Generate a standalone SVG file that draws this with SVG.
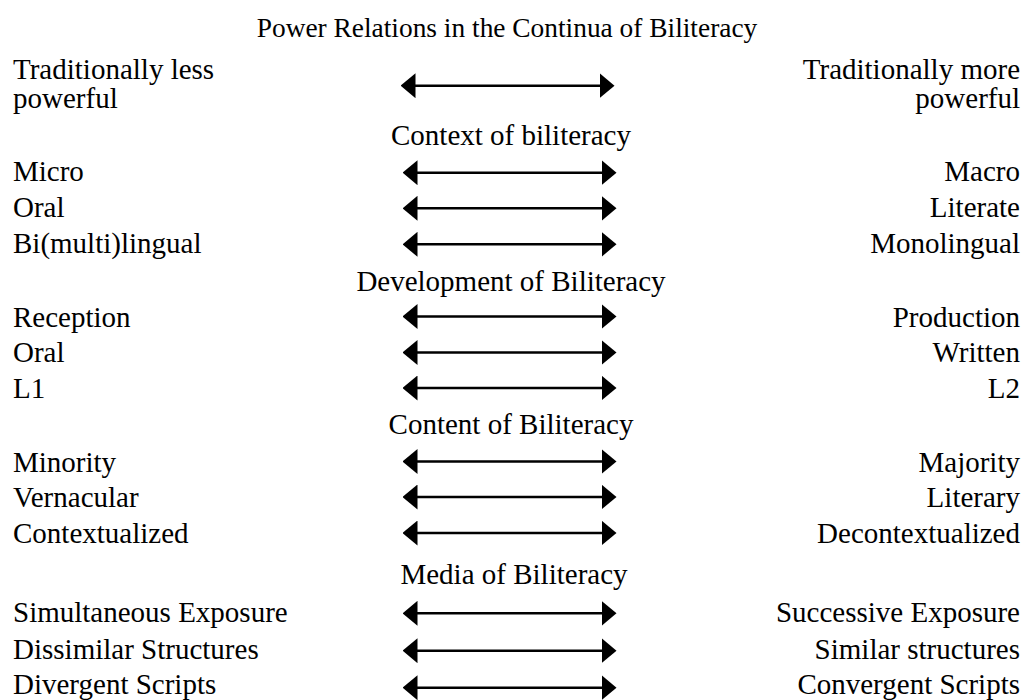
<svg xmlns="http://www.w3.org/2000/svg" width="1025" height="700" viewBox="0 0 1025 700">
<style>
text{font-family:"Liberation Serif","Times New Roman",serif;font-size:29px;fill:#000}
.l{text-anchor:start}
.r{text-anchor:end}
.c{text-anchor:middle}
.t{font-size:27.4px}
.arr{stroke:#000;stroke-width:2.5;fill:none;marker-start:url(#head);marker-end:url(#head)}
</style>
<defs>
<marker id="head" viewBox="0 0 15 25" refX="0.5" refY="12.5" markerWidth="15" markerHeight="25" markerUnits="userSpaceOnUse" orient="auto-start-reverse">
<path d="M0,0 L15,12.5 L0,25 Z" fill="#000"/>
</marker>
</defs>
<rect width="1025" height="700" fill="#fff"/>
<g id="title"><text class="c t" x="507" y="37">Power Relations in the Continua of Biliteracy</text></g>
<g id="row-power">
<text class="l" x="13" y="79">Traditionally less</text>
<text class="l" x="13" y="108">powerful</text>
<text class="r" x="1020" y="79">Traditionally more</text>
<text class="r" x="1020" y="108">powerful</text>
</g>
<g id="h-context"><text class="c" x="511" y="145">Context of biliteracy</text></g>
<g id="row-micro"><text class="l" x="13" y="181">Micro</text><text class="r" x="1020" y="181">Macro</text></g>
<g id="row-oral1"><text class="l" x="13" y="217">Oral</text><text class="r" x="1020" y="217">Literate</text></g>
<g id="row-bi"><text class="l" x="13" y="253">Bi(multi)lingual</text><text class="r" x="1020" y="253">Monolingual</text></g>
<g id="h-development"><text class="c" x="511" y="291">Development of Biliteracy</text></g>
<g id="row-reception"><text class="l" x="13" y="327">Reception</text><text class="r" x="1020" y="327">Production</text></g>
<g id="row-oral2"><text class="l" x="13" y="362">Oral</text><text class="r" x="1020" y="362">Written</text></g>
<g id="row-l1"><text class="l" x="13" y="398">L1</text><text class="r" x="1020" y="398">L2</text></g>
<g id="h-content"><text class="c" x="511" y="434">Content of Biliteracy</text></g>
<g id="row-minority"><text class="l" x="13" y="472">Minority</text><text class="r" x="1020" y="472">Majority</text></g>
<g id="row-vernacular"><text class="l" x="13" y="507">Vernacular</text><text class="r" x="1020" y="507">Literary</text></g>
<g id="row-context"><text class="l" x="13" y="543">Contextualized</text><text class="r" x="1020" y="543">Decontextualized</text></g>
<g id="h-media"><text class="c" x="514" y="584">Media of Biliteracy</text></g>
<g id="row-simultaneous"><text class="l" x="13" y="622">Simultaneous Exposure</text><text class="r" x="1020" y="622">Successive Exposure</text></g>
<g id="row-dissimilar"><text class="l" x="13" y="659">Dissimilar Structures</text><text class="r" x="1020" y="659">Similar structures</text></g>
<g id="row-divergent"><text class="l" x="13" y="694">Divergent Scripts</text><text class="r" x="1020" y="694">Convergent Scripts</text></g>
<g id="connectors">
<line class="arr" x1="415" y1="85.7" x2="600" y2="85.7"/>
<line class="arr" x1="417" y1="172.7" x2="602" y2="172.7"/>
<line class="arr" x1="417" y1="208.3" x2="602" y2="208.3"/>
<line class="arr" x1="417" y1="244.3" x2="602" y2="244.3"/>
<line class="arr" x1="417" y1="316.5" x2="602" y2="316.5"/>
<line class="arr" x1="417" y1="352.5" x2="602" y2="352.5"/>
<line class="arr" x1="417" y1="388" x2="602" y2="388"/>
<line class="arr" x1="417" y1="461.5" x2="602" y2="461.5"/>
<line class="arr" x1="417" y1="497" x2="602" y2="497"/>
<line class="arr" x1="417" y1="533" x2="602" y2="533"/>
<line class="arr" x1="417" y1="613.3" x2="602" y2="613.3"/>
<line class="arr" x1="417" y1="650.7" x2="602" y2="650.7"/>
<line class="arr" x1="417" y1="687.7" x2="602" y2="687.7"/>
</g>
</svg>
